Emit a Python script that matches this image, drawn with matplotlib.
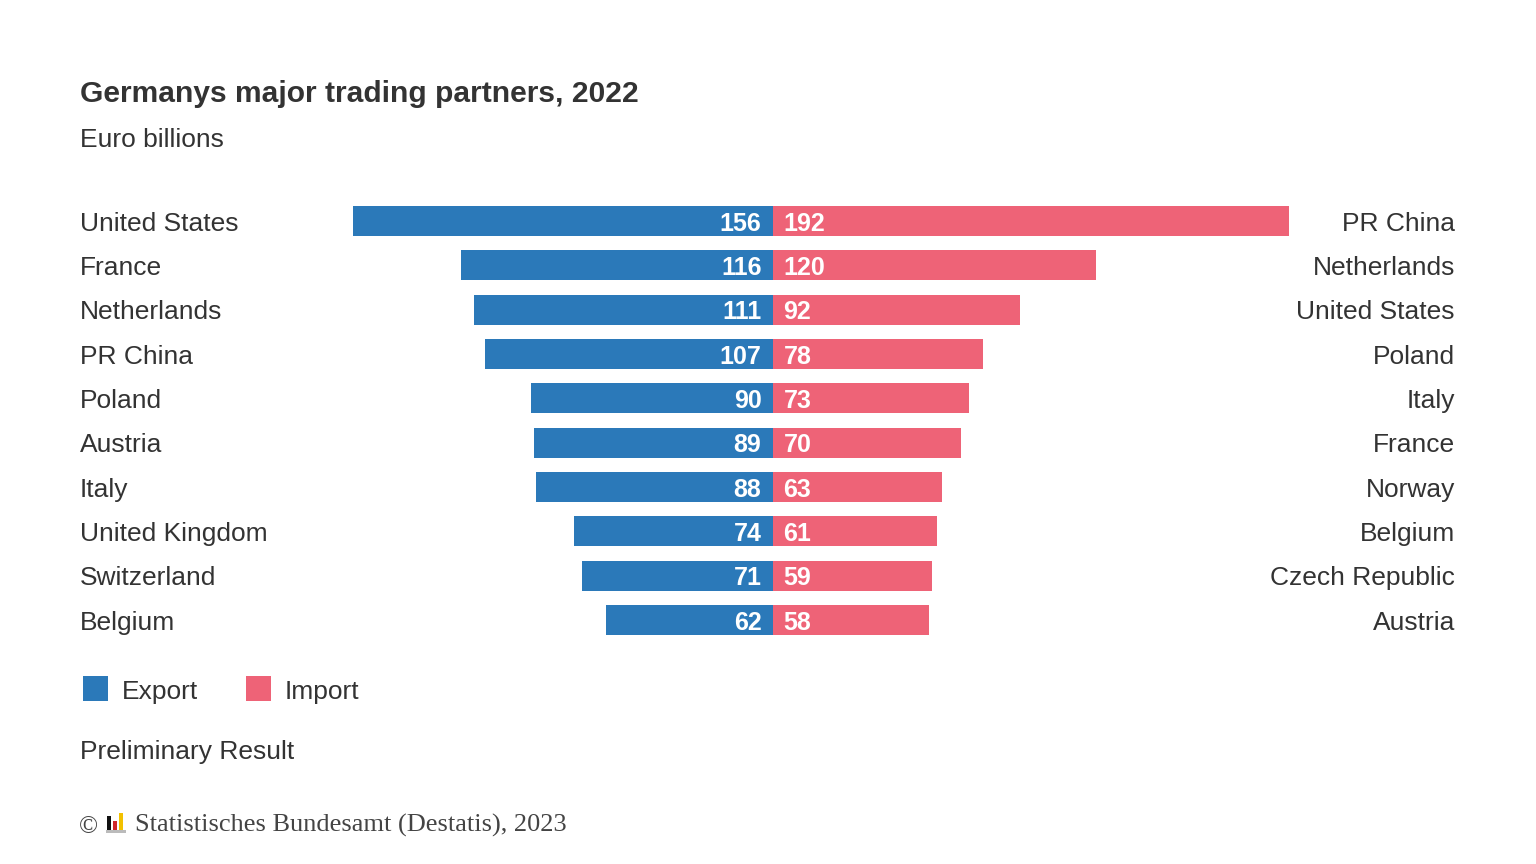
import matplotlib
matplotlib.use("Agg")
import matplotlib.pyplot as plt
import matplotlib.transforms as mtransforms
from matplotlib.patches import Rectangle

plt.rcParams['font.family'] = ['Liberation Sans', 'DejaVu Sans']

export_countries = ["United States", "France", "Netherlands", "PR China", "Poland",
                    "Austria", "Italy", "United Kingdom", "Switzerland", "Belgium"]
export_values = [156, 116, 111, 107, 90, 89, 88, 74, 71, 62]
import_countries = ["PR China", "Netherlands", "United States", "Poland", "Italy",
                    "France", "Norway", "Belgium", "Czech Republic", "Austria"]
import_values = [192, 120, 92, 78, 73, 70, 63, 61, 59, 58]

BLUE = "#2B79B9"
PINK = "#EE6377"
TXT = "#333333"

W, H = 1536, 864
fig = plt.figure(figsize=(W / 100, H / 100), dpi=100)

def fx(px):
    return px / W

def fy(py):
    return 1 - py / H

# axes in pixel layout
scale = 2.69  # px per unit
center = 773
ax_l, ax_r = 300, 1300
row0, step = 221, 44.33
ax_t, ax_b = 190, 650
ax = fig.add_axes([fx(ax_l), fy(ax_b), fx(ax_r) - fx(ax_l), (ax_b - ax_t) / H])
ax.set_xlim((ax_l - center) / scale, (ax_r - center) / scale)
ax.set_ylim((ax_b - row0) / step, (ax_t - row0) / step)
ax.axis("off")

ys = list(range(len(export_values)))
ax.barh(ys, [-v for v in export_values], height=0.68, color=BLUE)
ax.barh(ys, import_values, height=0.68, color=PINK)

for y, v in zip(ys, export_values):
    ax.text(-4.3, y + 0.06, str(v), ha="right", va="center", color="white",
            fontsize=18, fontweight="bold")
for y, v in zip(ys, import_values):
    ax.text(3.9, y + 0.06, str(v), ha="left", va="center", color="white",
            fontsize=18, fontweight="bold")

trans = mtransforms.blended_transform_factory(fig.transFigure, ax.transData)
for y, c in zip(ys, export_countries):
    fig.text(fx(80), y + 0.06, c, transform=trans, ha="left", va="center",
             fontsize=19, color=TXT)
for y, c in zip(ys, import_countries):
    fig.text(fx(1455), y + 0.06, c, transform=trans, ha="right", va="center",
             fontsize=19, color=TXT)

fig.text(fx(80), fy(94), "Germanys major trading partners, 2022", ha="left", va="center",
         fontsize=21.6, fontweight="bold", color=TXT)
fig.text(fx(80), fy(140), "Euro billions", ha="left", va="center", fontsize=19, color=TXT)

# legend
for x0, col, lab, tx in [(83, BLUE, "Export", 122), (246, PINK, "Import", 285)]:
    fig.patches.append(Rectangle((fx(x0), fy(701)), 25 / W, 25 / H, transform=fig.transFigure,
                                 facecolor=col, edgecolor="none"))
    fig.text(fx(tx), fy(692), lab, ha="left", va="center", fontsize=19, color=TXT)

fig.text(fx(80), fy(752), "Preliminary Result", ha="left", va="center", fontsize=19, color=TXT)

# footer
fig.text(fx(79), fy(827), "©", ha="left", va="center", fontsize=18,
         family=["Liberation Serif", "DejaVu Serif"], color="#444444")
# logo
fig.patches.append(Rectangle((fx(106), fy(833)), 20 / W, 3 / H, transform=fig.transFigure,
                             facecolor="#bbbbbb", edgecolor="none"))
for x0, h, col in [(107, 14, "#111111"), (113, 9, "#d0262b"), (119, 17, "#f2c100")]:
    fig.patches.append(Rectangle((fx(x0), fy(830)), 4 / W, h / H, transform=fig.transFigure,
                                 facecolor=col, edgecolor="none"))
fig.text(fx(135), fy(825), "Statistisches Bundesamt (Destatis), 2023", ha="left", va="center",
         fontsize=19, family=["Liberation Serif", "DejaVu Serif"], color="#444444")

fig.savefig("out.png", dpi=100, facecolor="white")
